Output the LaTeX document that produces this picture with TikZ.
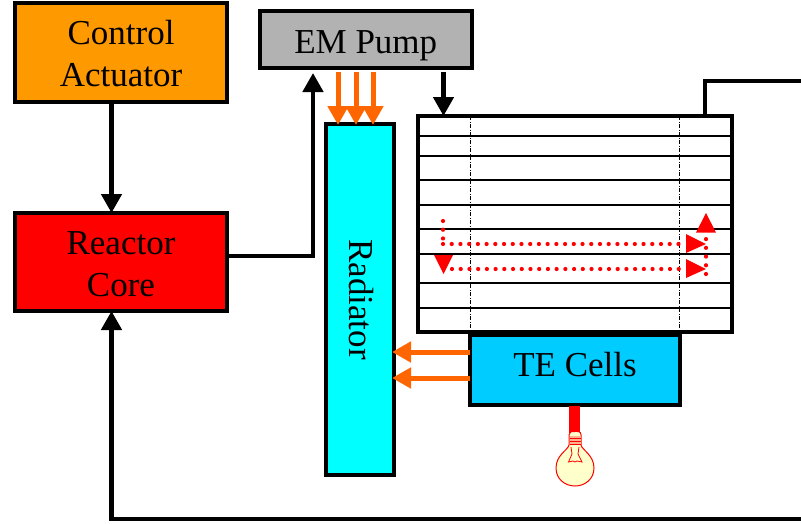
\documentclass[tikz,border=0pt]{standalone}
\usepackage{fontspec}
\setmainfont{Liberation Serif}
\usetikzlibrary{arrows.meta,calc}
\definecolor{orangeA}{HTML}{FF9900}
\definecolor{grayA}{HTML}{B2B2B2}
\definecolor{cyanA}{HTML}{00FFFF}
\definecolor{blueA}{HTML}{00CCFF}
\definecolor{flow}{HTML}{FF6600}
\definecolor{bulb}{HTML}{FFFFCC}
\tikzset{
  box/.style={draw=black,line width=4pt,inner sep=0pt,outer sep=0pt,align=center,
    font=\fontsize{35}{42}\selectfont},
  conn/.style={line width=4.6pt,-{Triangle[width=20pt,length=19pt]}},
  heat/.style={draw=flow,line width=5pt,-{Triangle[width=20pt,length=19pt]}},
  grid line/.style={line width=1.2pt},
  dd line/.style={line width=1pt,dash pattern=on 4pt off 1.5pt on 1pt off 1.5pt},
  dots/.style={draw=red,line width=4.2pt,line cap=round,dash pattern=on 0pt off 8.72pt},
  rtip/.style={fill=red,draw=none},
}
\begin{document}
\begin{tikzpicture}[x=1pt,y=-1pt]
\useasboundingbox (0,0) rectangle (801,523);
\fill[white] (0,0) rectangle (801,523);
% boxes
\node[box,fill=orangeA,minimum width=212pt,minimum height=99pt] (ctrl) at (121,52.5) {\rule{0pt}{26pt}Control\\Actuator};
\node[box,fill=red,minimum width=212pt,minimum height=98pt] (core) at (121,262) {\rule{0pt}{28pt}Reactor\\Core};
\node[box,fill=grayA,minimum width=212.5pt,minimum height=57pt,text height=27.6pt,text depth=0pt] (pump) at (365.75,39.5) {EM Pump};
\node[box,fill=cyanA,minimum width=68pt,minimum height=351pt] (rad) at (360,299.5) {};
\node[font=\fontsize{35}{42}\selectfont,rotate=-90,inner sep=0pt] (radlabel) at (361,299.5) {Radiator};
\node[box,fill=blueA,minimum width=210pt,minimum height=70pt,text height=12pt,text depth=0pt] (te) at (575,370) {TE Cells};
\node[draw=black,line width=4pt,fill=white,minimum width=314pt,minimum height=216pt,inner sep=0pt,outer sep=0pt] (tank) at (575,224) {};
% tank inner lines
\foreach \yy/\nn in {136/a,156/b,180/c,205/d,229/e,254/f,283/g,308/h}{
  \draw[grid line] (tank.west |- 0,\yy) -- (tank.east |- 0,\yy);
}
\draw[dd line] (470,116) -- (470,332);
\draw[dd line] (679,116) -- (679,332);
% red flow
\coordinate (r1) at (443,221);
\coordinate (r2) at (443,244);
\coordinate (r3) at (686,244);
\coordinate (r4) at (452,269);
\coordinate (r5) at (686,269);
\coordinate (r6) at (706,274);
\coordinate (r7) at (706,238);
\draw[dots] (r1) -- (r2);
\draw[dots] (r2) -- (r3);
\draw[dots] (r4) -- (r5);
\draw[dots] (r6) -- (r7);
\fill[rtip] (434,255) -- (453,255) -- (443.5,274) -- cycle;
\fill[rtip] (686,234) -- (686,253) -- (706,244) -- cycle;
\fill[rtip] (686,259) -- (686,278) -- (706,269) -- cycle;
\fill[rtip] (696,232.5) -- (716,232.5) -- (706,213) -- cycle;
% black connectors
\coordinate (ctrlout) at (111.5,101);
\draw[conn] (ctrlout) -- (ctrlout |- core.north);
\coordinate (coreout) at (core.east |- 0,256);
\coordinate (pumpin) at (313,73);
\draw[conn] (coreout) -| (pumpin);
\coordinate (pumpout) at (443.5,72);
\draw[conn] (pumpout) -- (pumpout |- tank.north);
\coordinate (tankout) at (705,116);
\coordinate (outend) at (801,81);
\draw[line width=4.6pt] (tankout) |- (outend);
\coordinate (backstart) at (801,519);
\draw[conn] (backstart) -| (ctrlout |- core.south);
% heat flows
\foreach \xx/\nn in {338/a,356/b,373/c}{
  \draw[heat] (\xx,72) -- (\xx,125);
}
\draw[heat] (te.west |- 0,352) -- (392,352);
\draw[heat] (te.west |- 0,378) -- (392,378);
% bulb
\fill[red] (569,406) rectangle (580,433);
\begin{scope}[draw=red,line width=1pt]
\draw[fill=bulb] (570,433) .. controls (570,431) and (572,431.5) .. (574,431.5)
  .. controls (578,431.5) and (581,431) .. (581,435)
  -- (581,445) .. controls (582,450) and (594,455) .. (594,468)
  .. controls (594,479) and (585,486) .. (575,486)
  .. controls (565,486) and (556,479) .. (556,468)
  .. controls (556,455) and (568,450) .. (569,445) -- (569,435) -- cycle;
\fill[red!30!bulb] (570,436) rectangle (581,445);
\draw[line width=.8pt] (569.5,438) -- (581,438) (569.5,441) -- (581,441) (569.5,444.5) -- (581,444.5);
\draw[line width=.8pt] (571,447) -- (572,454) -- (568.5,462) -- (573,461) -- (575,462) -- (577,461) -- (582,462) -- (578,454) -- (579,447);
\end{scope}
\end{tikzpicture}
\end{document}
